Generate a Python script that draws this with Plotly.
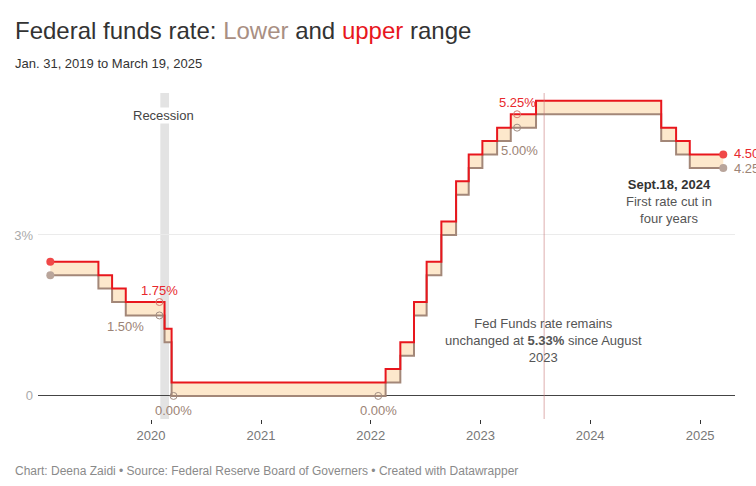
import plotly.graph_objects as go

# ---- data ----
dates = ["2019-01-31", "2019-06-19", "2019-07-31", "2019-09-18", "2019-10-30",
         "2020-01-29", "2020-03-03", "2020-03-16", "2022-01-26", "2022-03-16",
         "2022-05-04", "2022-06-15", "2022-07-27", "2022-09-21", "2022-11-02",
         "2022-12-14", "2023-02-01", "2023-03-22", "2023-05-03", "2023-06-14",
         "2023-07-26", "2024-07-31", "2024-09-18", "2024-11-07", "2024-12-18",
         "2025-01-29", "2025-03-19"]
upper = [2.50, 2.50, 2.25, 2.00, 1.75, 1.75, 1.25, 0.25, 0.25, 0.50,
         1.00, 1.75, 2.50, 3.25, 4.00, 4.50, 4.75, 5.00, 5.25, 5.25,
         5.50, 5.50, 5.00, 4.75, 4.50, 4.50, 4.50]
lower = [2.25, 2.25, 2.00, 1.75, 1.50, 1.50, 1.00, 0.00, 0.00, 0.25,
         0.75, 1.50, 2.25, 3.00, 3.75, 4.25, 4.50, 4.75, 5.00, 5.00,
         5.25, 5.25, 4.75, 4.50, 4.25, 4.25, 4.25]

upper_mark_dates = ["2020-01-29", "2023-05-03"]
upper_mark_vals = [1.75, 5.25]
lower_mark_dates = ["2020-01-29", "2020-03-16", "2022-01-26", "2023-05-03"]
lower_mark_vals = [1.50, 0.00, 0.00, 5.00]

recession_start = "2020-02-01"
recession_end = "2020-03-01"
note_date = "2023-08-01"

year_ticks = ["2020-01-01", "2021-01-01", "2022-01-01", "2023-01-01", "2024-01-01", "2025-01-01"]
year_labels = ["2020", "2021", "2022", "2023", "2024", "2025"]
y_ticks = [0, 3]
y_labels = ["0", "3%"]

# ---- styles ----
RED = "#e8161d"
BROWN = "#a38778"
FILL = "#fde8cc"
FONT = "Liberation Sans, Arial, sans-serif"

W, H = 756, 486
ML, MR, MT, MB = 38, 21, 93, 67
PW, PH = W - ML - MR, H - MT - MB


def px(x):
    return (x - ML) / PW


def py(y):
    return (H - MB - y) / PH


fig = go.Figure()

fig.add_trace(go.Scatter(x=dates, y=lower, mode="lines", line=dict(color=BROWN, width=2, shape="hvh"),
                         hoverinfo="skip", showlegend=False))
fig.add_trace(go.Scatter(x=dates, y=upper, mode="lines", line=dict(color=RED, width=2, shape="hvh"),
                         fill="tonexty", fillcolor=FILL, hoverinfo="skip", showlegend=False))

# start / end dots
fig.add_trace(go.Scatter(x=[dates[0], dates[-1]], y=[lower[0], lower[-1]], mode="markers",
                         marker=dict(color="#b9a59b", size=8), showlegend=False, hoverinfo="skip"))
fig.add_trace(go.Scatter(x=[dates[0], dates[-1]], y=[upper[0], upper[-1]], mode="markers",
                         marker=dict(color="#f04848", size=8), showlegend=False, hoverinfo="skip"))

# hollow markers
fig.add_trace(go.Scatter(x=upper_mark_dates, y=upper_mark_vals, mode="markers",
                         marker=dict(symbol="circle-open", color="#d77a70", size=7, line=dict(width=1)),
                         showlegend=False, hoverinfo="skip"))
fig.add_trace(go.Scatter(x=lower_mark_dates, y=lower_mark_vals, mode="markers",
                         marker=dict(symbol="circle-open", color="#a08c82", size=7, line=dict(width=1)),
                         showlegend=False, hoverinfo="skip"))

shapes = [
    dict(type="rect", xref="x", yref="paper", x0=recession_start, x1=recession_end, y0=0, y1=1,
         fillcolor="#e3e3e3", line=dict(width=0), layer="below"),
    dict(type="line", xref="x", yref="paper", x0=note_date, x1=note_date, y0=0, y1=1,
         line=dict(color="rgba(200,120,120,0.6)", width=1), layer="above"),
]

ann = []


def label(x, y, text, color, xshift=0, yshift=0, xanchor="center", size=13):
    ann.append(dict(x=x, y=y, xref="x", yref="y", text=text, showarrow=False,
                    xshift=xshift, yshift=yshift, xanchor=xanchor, yanchor="middle",
                    font=dict(size=size, color=color, family=FONT)))


label(upper_mark_dates[0], upper_mark_vals[0], "1.75%", "#e8282d", yshift=12)
label(lower_mark_dates[0], lower_mark_vals[0], "1.50%", "#9c8476", xshift=-34, yshift=-11)
label(lower_mark_dates[1], lower_mark_vals[1], "0.00%", "#9c8476", yshift=-15)
label(lower_mark_dates[2], lower_mark_vals[2], "0.00%", "#9c8476", yshift=-15)
label(upper_mark_dates[1], upper_mark_vals[1], "5.25%", "#e8282d", yshift=12)
label(lower_mark_dates[3], lower_mark_vals[3], "5.00%", "#9c8476", xshift=2, yshift=-23)
label(dates[-1], upper[-1], "4.50%", "#e8282d", xshift=9, yshift=1, xanchor="left")
label(dates[-1], lower[-1], "4.25%", "#9c8476", xshift=9, yshift=-1, xanchor="left")

ann.append(dict(x=px(163), y=py(115), xref="paper", yref="paper", showarrow=False,
                xanchor="center", yanchor="middle",
                text="Recession", bgcolor="white", borderpad=0,
                font=dict(size=13, color="#444", family=FONT)))
ann.append(dict(x=px(543), y=py(340), xref="paper", yref="paper", showarrow=False,
                xanchor="center", yanchor="middle",
                text="Fed Funds rate remains<br>unchanged at <b>5.33%</b> since August<br>2023",
                align="center", font=dict(size=13, color="#555", family=FONT)))
ann.append(dict(x=px(669), y=py(201), xref="paper", yref="paper", showarrow=False,
                xanchor="center", yanchor="middle",
                text="<b style='color:#333'>Sept.18, 2024</b><br>First rate cut in<br>four years",
                align="center", font=dict(size=13, color="#555", family=FONT)))

# title, subtitle, footer
ann.append(dict(x=px(13), y=py(30), xref="paper", yref="paper", showarrow=False, xanchor="left",
                yanchor="middle",
                text="Federal funds rate: <span style='color:#a98f83'>Lower</span> and "
                     "<span style='color:#e8161d'>upper</span> range",
                font=dict(size=24, color="#333", family=FONT)))
ann.append(dict(x=px(13), y=py(63), xref="paper", yref="paper", showarrow=False, xanchor="left",
                yanchor="middle", text="Jan. 31, 2019 to March 19, 2025",
                font=dict(size=13, color="#333", family=FONT)))
ann.append(dict(x=px(13), y=py(471), xref="paper", yref="paper", showarrow=False, xanchor="left",
                yanchor="middle",
                text="Chart: Deena Zaidi • Source: Federal Reserve Board of Governers • Created with Datawrapper",
                font=dict(size=12, color="#8a8a8a", family=FONT)))

fig.update_layout(
    width=W, height=H, margin=dict(l=ML, r=MR, t=MT, b=MB),
    paper_bgcolor="white", plot_bgcolor="white",
    font=dict(family=FONT),
    shapes=shapes, annotations=ann,
    xaxis=dict(type="date", range=["2018-12-21", "2025-04-27"], tickvals=year_ticks, ticktext=year_labels,
               showgrid=False, zeroline=False, showline=False, ticks="outside", ticklen=4,
               tickcolor="#333", tickfont=dict(size=13, color="#777", family=FONT)),
    yaxis=dict(range=[-0.43, 5.646], tickvals=y_ticks, ticktext=y_labels, showgrid=True,
               gridcolor="#ebebeb", zeroline=True, zerolinecolor="#444", zerolinewidth=1,
               showline=False, ticks="", ticklabelstandoff=4,
               tickfont=dict(size=13, color="#aaa", family=FONT)),
)

fig.write_html("out.html", config={"displayModeBar": False},
               post_script="document.body.style.margin='0';document.body.style.padding='0';")
